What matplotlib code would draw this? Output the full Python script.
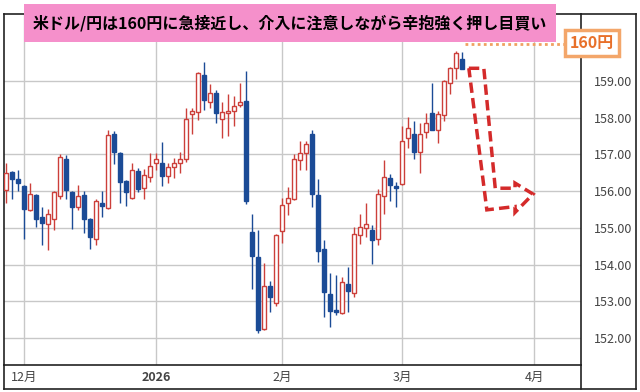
import numpy as np
import pandas as pd
import matplotlib
matplotlib.use("Agg")
import matplotlib.pyplot as plt
from matplotlib.patches import Rectangle, Polygon
from matplotlib.lines import Line2D

plt.rcParams['font.family'] = ['Noto Sans CJK JP', 'DejaVu Sans']

# USD/JPY daily candles, 2025-11-26 .. 2026-03-16 (trading days)
first_day = "2025-11-26"
holidays = ["2025-12-25", "2026-01-01"]

opens = [156.03, 156.52, 156.33, 156.14, 155.48, 155.89, 155.29, 155.10, 155.23, 155.87,
         156.87, 155.98, 155.58, 155.90, 155.25, 154.70, 155.68, 155.55, 157.57, 157.03,
         156.28, 155.82, 156.55, 156.08, 156.38, 156.76, 156.78, 156.42, 156.65, 156.76,
         156.87, 158.09, 158.15, 159.18, 158.44, 158.68, 157.96, 158.12, 158.18, 158.35,
         158.46, 154.88, 154.20, 152.24, 153.41, 152.94, 154.91, 155.68, 155.79, 156.85,
         157.03, 157.55, 155.89, 154.41, 153.20, 152.76, 152.69, 153.47, 153.23, 154.80,
         154.99, 154.94, 154.69, 155.87, 156.35, 156.15, 156.19, 157.44, 157.56, 157.06,
         157.60, 158.12, 157.68, 158.07, 158.96, 159.37, 159.60]
highs = [156.77, 156.55, 156.59, 156.17, 156.21, 155.92, 155.58, 155.51, 156.00, 157.00,
         156.98, 156.00, 156.17, 156.01, 155.27, 155.78, 156.00, 157.66, 157.64, 157.07,
         156.30, 156.77, 156.62, 156.60, 157.03, 157.03, 157.33, 156.78, 156.91, 157.07,
         158.26, 158.26, 159.25, 159.51, 158.91, 158.75, 158.44, 158.64, 158.60, 158.95,
         159.27, 155.38, 154.93, 154.05, 153.55, 154.83, 155.81, 156.12, 157.02, 157.37,
         157.37, 157.68, 156.32, 154.67, 153.76, 153.71, 153.67, 153.94, 155.01, 155.37,
         155.67, 155.08, 156.06, 156.85, 156.47, 156.26, 157.77, 158.03, 157.91, 157.87,
         158.12, 158.94, 158.18, 159.03, 159.39, 159.82, 159.80]
lows = [155.68, 155.78, 156.01, 154.70, 155.46, 155.03, 154.54, 154.40, 154.94, 155.78,
        155.78, 154.97, 155.48, 154.87, 154.43, 154.53, 155.30, 155.50, 156.74, 155.67,
        155.60, 155.78, 155.97, 155.78, 156.26, 156.57, 156.15, 156.21, 156.35, 156.50,
        156.80, 157.57, 157.94, 158.21, 158.27, 157.86, 157.46, 157.50, 157.78, 158.29,
        155.64, 153.32, 152.13, 152.22, 152.71, 152.88, 154.58, 155.36, 155.75, 156.57,
        156.57, 155.56, 154.08, 152.58, 152.29, 152.62, 152.65, 152.71, 153.11, 154.56,
        154.74, 154.01, 154.53, 155.38, 155.74, 155.57, 156.17, 157.19, 156.89, 156.50,
        157.44, 157.66, 157.32, 157.91, 158.64, 159.07, 159.32]
closes = [156.49, 156.32, 156.21, 155.50, 155.91, 155.23, 155.12, 155.37, 155.97, 156.94,
          156.03, 155.58, 155.87, 155.23, 154.74, 155.73, 155.59, 157.53, 157.07, 156.26,
          155.97, 156.59, 156.05, 156.44, 156.69, 156.87, 156.42, 156.66, 156.78, 156.89,
          157.96, 158.18, 159.23, 158.48, 158.67, 158.12, 158.15, 158.18, 158.32, 158.44,
          155.74, 154.22, 152.21, 153.41, 153.11, 154.80, 155.62, 155.80, 156.89, 157.05,
          157.28, 155.92, 154.38, 153.26, 152.74, 152.71, 153.52, 153.29, 154.83, 155.01,
          155.10, 154.67, 155.91, 156.38, 156.17, 156.08, 157.37, 157.71, 157.07, 157.57,
          157.85, 157.68, 158.10, 159.00, 159.36, 159.78, 159.32]

title = "米ドル/円は160円に急接近し、介入に注意しながら辛抱強く押し目買い"
target = 160
target_label = "160円"

up_col = "#cc3f3a"
down_col = "#1b4b96"

o = np.array(opens); h = np.array(highs); l = np.array(lows); c = np.array(closes)
x = np.arange(len(o))

days = pd.bdate_range(first_day, "2026-04-30")
days = days[~days.isin(pd.to_datetime(holidays))]
tick_pos = [i for i in range(1, len(days)) if days[i].month != days[i - 1].month]
tick_lab = [str(days[i].year) if days[i].month == 1 else f"{days[i].month}月" for i in tick_pos]

W, H = 640, 392
fig = plt.figure(figsize=(W / 100, H / 100), dpi=100)

def fx(px):
    return px / W

def fy(py):
    return 1 - py / H

ax = fig.add_axes([fx(4), fy(365), fx(581) - fx(4), fy(14) - fy(365)])

up = c >= o
ax.vlines(x, l, h, colors=np.where(up, up_col, down_col), lw=1, zorder=2)
ax.bar(x[up], (c - o)[up], bottom=o[up], width=0.7, facecolor="white",
       edgecolor=up_col, lw=1, zorder=3)
ax.bar(x[~up], (o - c)[~up], bottom=c[~up], width=0.7, facecolor=down_col,
       edgecolor=down_col, lw=1, zorder=3)

ax.set_xlim(-0.4, 95.8)
ax.set_ylim(151.26, 160.83)
ax.set_yticks(np.arange(152, 160))
ax.yaxis.set_major_formatter(plt.FormatStrFormatter("%.2f"))
ax.yaxis.tick_right()
ax.tick_params(axis="y", length=0, pad=9, labelsize=9, labelcolor="#444444")
ax.set_xticks(tick_pos)
ax.set_xticklabels(tick_lab)
ax.tick_params(axis="x", length=0, pad=4, labelsize=9, labelcolor="#444444")
for t in ax.get_xticklabels():
    if not t.get_text().endswith("月"):
        t.set_fontweight("bold")
ax.grid(color="#c8c8c8", lw=1)
ax.set_axisbelow(True)
for s in ax.spines.values():
    s.set_color("#222222")
    s.set_linewidth(1.2)

# outer frame around the label strips
frame = [((4, 365), (4, 389)), ((4, 389), (636, 389)), ((581, 365), (581, 389)),
         ((636, 14), (636, 389)), ((581, 14), (636, 14))]
for (x0, y0), (x1, y1) in frame:
    fig.add_artist(Line2D([fx(x0), fx(x1)], [fy(y0), fy(y1)], color="#222222", lw=1.2))

# dotted line to the 160 target
ax.plot([x[-1] + 0.5, 93], [target, target], color="#f0a060", lw=2, ls=(0, (1, 1.2)),
        zorder=4, clip_on=False)
fig.text(fx(592), fy(43), target_label, ha="center", va="center", fontsize=11.5,
         fontweight="bold", color="#e8702a",
         bbox=dict(boxstyle="square,pad=0.3", fc="white", ec="#f3a66a", lw=2.5))

# dashed red arrow (down, then right)
arrow = [(77.1, 159.35), (79.6, 159.35), (81.5, 156.08), (84.8, 156.08), (84.8, 156.22),
         (87.8, 155.92), (84.8, 155.42), (84.8, 155.58), (80.1, 155.49)]
ax.add_patch(Polygon(arrow, closed=True, fill=False, edgecolor="#d42a2a", lw=2.5,
                     ls=(0, (3, 1.5)), joinstyle="miter", zorder=5))

# title banner
fig.add_artist(Rectangle((fx(24), fy(42)), fx(556) - fx(24), fy(4) - fy(42),
                         facecolor="#f590cb", edgecolor="none", zorder=5))
fig.text(fx(290), fy(23), title, ha="center", va="center", fontsize=11.5,
         fontweight="bold", color="black", zorder=6)

fig.savefig("out.png", dpi=100)
